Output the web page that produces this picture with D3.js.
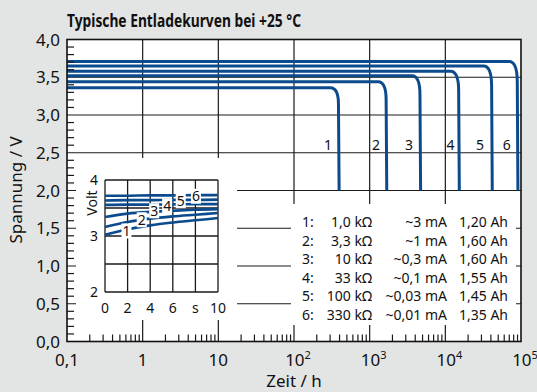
<!DOCTYPE html>
<html><head><meta charset="utf-8">
<script src="https://cdn.jsdelivr.net/npm/d3@7/dist/d3.min.js"></script>
<style>
html,body{margin:0;padding:0;background:#e3e4e4;}
svg{display:block;font-family:"Noto Sans",sans-serif;}
</style></head>
<body>
<svg id="c" width="537" height="392"></svg>
<script>
// ---------- data ----------
const titleText = "Typische Entladekurven bei +25 °C";
const yLabel = "Spannung / V";
const xLabel = "Zeit / h";
const xDecades = [0.1, 1, 10, 100, 1000, 10000, 100000];
const xTickBase = ["0,1", "1", "10", "10", "10", "10", "10"];
const xTickExp = ["", "", "", "2", "3", "4", "5"];
const yTicks = [0, 0.5, 1, 1.5, 2, 2.5, 3, 3.5, 4];
const yTickLabels = ["0,0", "0,5", "1,0", "1,5", "2,0", "2,5", "3,0", "3,5", "4,0"];

const curveIds = ["1", "2", "3", "4", "5", "6"];
const plateauV = [3.36, 3.44, 3.52, 3.58, 3.65, 3.71];
const kneeStartT = [302, 1290, 3610, 11700, 32000, 69800];
const endT = [387, 1650, 4620, 15000, 40900, 89300];
const kneeDropV = [0.22, 0.24, 0.25, 0.26, 0.27, 0.28];
const cutoffV = 2.0;
const curveLabelT = [281, 1211, 3310, 11740, 28700, 64600];
const curveLabelV = 2.6;

const legendRes = ["1,0 kΩ", "3,3 kΩ", "10 kΩ", "33 kΩ", "100 kΩ", "330 kΩ"];
const legendCur = ["~3 mA", "~1 mA", "~0,3 mA", "~0,1 mA", "~0,03 mA", "~0,01 mA"];
const legendCap = ["1,20 Ah", "1,60 Ah", "1,60 Ah", "1,55 Ah", "1,45 Ah", "1,35 Ah"];

// inset: first seconds of discharge
const insetT = [0, 2, 4, 6, 8, 10];
const insetV1 = [3.02, 3.12, 3.19, 3.24, 3.28, 3.32];
const insetV2 = [3.16, 3.25, 3.31, 3.35, 3.38, 3.41];
const insetV3 = [3.34, 3.40, 3.43, 3.45, 3.47, 3.48];
const insetV4 = [3.555, 3.56, 3.56, 3.565, 3.57, 3.57];
const insetV5 = [3.635, 3.64, 3.64, 3.645, 3.645, 3.65];
const insetV6 = [3.72, 3.72, 3.725, 3.725, 3.73, 3.73];
const insetSeries = [insetV1, insetV2, insetV3, insetV4, insetV5, insetV6];
const insetLabelT = [1.9, 3.25, 4.35, 5.5, 6.7, 8.05];
const insetLabelV = [3.09, 3.29, 3.45, 3.54, 3.63, 3.71];
const insetXTicks = [0, 2, 4, 6, 8, 10];
const insetXTickLabels = ["0", "2", "4", "6", "s", "10"];
const insetYTicks = [2, 2.5, 3, 3.5, 4];
const insetYTickLabels = {2: "2", 3: "3", 4: "4"};

// ---------- drawing ----------
const svg = d3.select("#c");
const blue = "#0b4a8c";
const L = 67, R = 521, T = 39.5, B = 341.5;
const x = d3.scaleLog().domain([0.1, 100000]).range([L, R]);
const y = d3.scaleLinear().domain([0, 4]).range([B, T]);

svg.append("rect").attr("width", 537).attr("height", 392).attr("fill", "#e3e4e4");
svg.append("text").attr("x", 67).attr("y", 27).attr("font-size", 18.5).attr("font-weight", "bold")
  .attr("fill", "#111").attr("textLength", 234).attr("lengthAdjust", "spacingAndGlyphs").text(titleText);

svg.append("rect").attr("x", L).attr("y", T).attr("width", R - L).attr("height", B - T).attr("fill", "#fff");

const grid = svg.append("g").attr("stroke", "#1a1a1a").attr("stroke-width", 1.2);
xDecades.slice(1, -1).forEach(d => grid.append("line").attr("x1", x(d)).attr("x2", x(d)).attr("y1", T).attr("y2", B));
yTicks.slice(1, -1).forEach(d => grid.append("line").attr("x1", L).attr("x2", R).attr("y1", y(d)).attr("y2", y(d)));

// main curves
const cg = svg.append("g").attr("fill", "none").attr("stroke", blue).attr("stroke-width", 3);
curveIds.forEach((id, i) => {
  const p = d3.path();
  p.moveTo(x(0.1), y(plateauV[i]));
  p.lineTo(x(kneeStartT[i]), y(plateauV[i]));
  p.quadraticCurveTo(x(endT[i]), y(plateauV[i]), x(endT[i]), y(plateauV[i] - kneeDropV[i]));
  p.lineTo(x(endT[i] * 1.02), y(cutoffV));
  cg.append("path").attr("d", p.toString());
});

// white boxes (inset and legend)
svg.append("rect").attr("x", 76).attr("y", 158).attr("width", 161).attr("height", 162).attr("fill", "#fff");
svg.append("rect").attr("x", 291).attr("y", 204).attr("width", 225).attr("height", 121).attr("fill", "#fff");

// axis ticks
const tk = svg.append("g").attr("stroke", "#1a1a1a").attr("stroke-width", 1.2);
d3.range(1, 40).filter(i => i % 5 !== 0).forEach(i => {
  const v = i / 10;
  tk.append("line").attr("x1", L).attr("x2", L + 7).attr("y1", y(v)).attr("y2", y(v));
});
xDecades.slice(0, -1).forEach(d => {
  d3.range(2, 10).forEach(m => {
    tk.append("line").attr("x1", x(d * m)).attr("x2", x(d * m)).attr("y1", B).attr("y2", B - 7);
  });
});
svg.append("rect").attr("x", L).attr("y", T).attr("width", R - L).attr("height", B - T)
  .attr("fill", "none").attr("stroke", "#111").attr("stroke-width", 1.6);

// axis labels
const yl = svg.append("g").attr("font-size", 17).attr("fill", "#111").attr("text-anchor", "end");
yTicks.forEach((d, i) => yl.append("text").attr("x", 60).attr("y", y(d)).attr("dy", "0.36em").text(yTickLabels[i]));
const xl = svg.append("g").attr("font-size", 17).attr("fill", "#111").attr("text-anchor", "middle");
xDecades.forEach((d, i) => {
  const t = xl.append("text").attr("x", x(d) + (xTickExp[i] ? 4 : 0)).attr("y", 366);
  t.append("tspan").text(xTickBase[i]);
  if (xTickExp[i]) t.append("tspan").attr("font-size", 11).attr("dy", -7).text(xTickExp[i]);
});
svg.append("text").attr("x", 294).attr("y", 387).attr("font-size", 17).attr("text-anchor", "middle").attr("fill", "#111").text(xLabel);
svg.append("text").attr("transform", "translate(22,190) rotate(-90)").attr("font-size", 17)
  .attr("text-anchor", "middle").attr("fill", "#111").text(yLabel);

// curve labels
const cl = svg.append("g").attr("font-size", 14).attr("fill", "#111").attr("text-anchor", "middle");
curveIds.forEach((id, i) => cl.append("text").attr("x", x(curveLabelT[i])).attr("y", y(curveLabelV)).attr("dy", "0.36em").text(id));

// legend
const lg = svg.append("g").attr("font-size", 14).attr("fill", "#111");
curveIds.forEach((id, i) => {
  const yy = 222 + i * 18.6;
  lg.append("text").attr("x", 302).attr("y", yy).attr("dy", "0.36em").text(id + ":");
  lg.append("text").attr("x", 372).attr("y", yy).attr("dy", "0.36em").attr("text-anchor", "end").text(legendRes[i]);
  lg.append("text").attr("x", 447).attr("y", yy).attr("dy", "0.36em").attr("text-anchor", "end").text(legendCur[i]);
  lg.append("text").attr("x", 508).attr("y", yy).attr("dy", "0.36em").attr("text-anchor", "end").text(legendCap[i]);
});

// inset
const ix = d3.scaleLinear().domain([0, 10]).range([105, 218]);
const iy = d3.scaleLinear().domain([2, 4]).range([292, 180]);
const ig = svg.append("g").attr("stroke", "#1a1a1a").attr("stroke-width", 1.3);
insetXTicks.forEach(d => ig.append("line").attr("x1", ix(d)).attr("x2", ix(d)).attr("y1", iy(2)).attr("y2", iy(4)));
insetYTicks.forEach(d => ig.append("line").attr("x1", ix(0)).attr("x2", ix(10)).attr("y1", iy(d)).attr("y2", iy(d)));
const iline = d3.line().x((d, j) => ix(insetT[j])).y(d => iy(d)).curve(d3.curveMonotoneX);
const ic = svg.append("g").attr("fill", "none").attr("stroke", blue).attr("stroke-width", 2.6);
insetSeries.forEach(s => ic.append("path").attr("d", iline(s)));
const il = svg.append("g").attr("font-size", 14).attr("fill", "#111").attr("text-anchor", "middle");
curveIds.forEach((id, i) => {
  const cx = ix(insetLabelT[i]), cy = iy(insetLabelV[i]);
  il.append("rect").attr("x", cx - 5).attr("y", cy - 7.5).attr("width", 10).attr("height", 15).attr("fill", "#fff");
  il.append("text").attr("x", cx).attr("y", cy).attr("dy", "0.36em").text(id);
});
const ia = svg.append("g").attr("font-size", 14).attr("fill", "#111");
insetYTicks.filter(d => insetYTickLabels[d]).forEach(d =>
  ia.append("text").attr("x", 98).attr("y", iy(d)).attr("dy", "0.36em").attr("text-anchor", "end").text(insetYTickLabels[d]));
insetXTicks.forEach((d, i) =>
  ia.append("text").attr("x", ix(d)).attr("y", 308).attr("dy", "0.36em").attr("text-anchor", "middle").text(insetXTickLabels[i]));
ia.append("text").attr("transform", "translate(92,203) rotate(-90)").attr("dy", "0.36em").attr("text-anchor", "middle").text("Volt");
</script>
</body></html>
